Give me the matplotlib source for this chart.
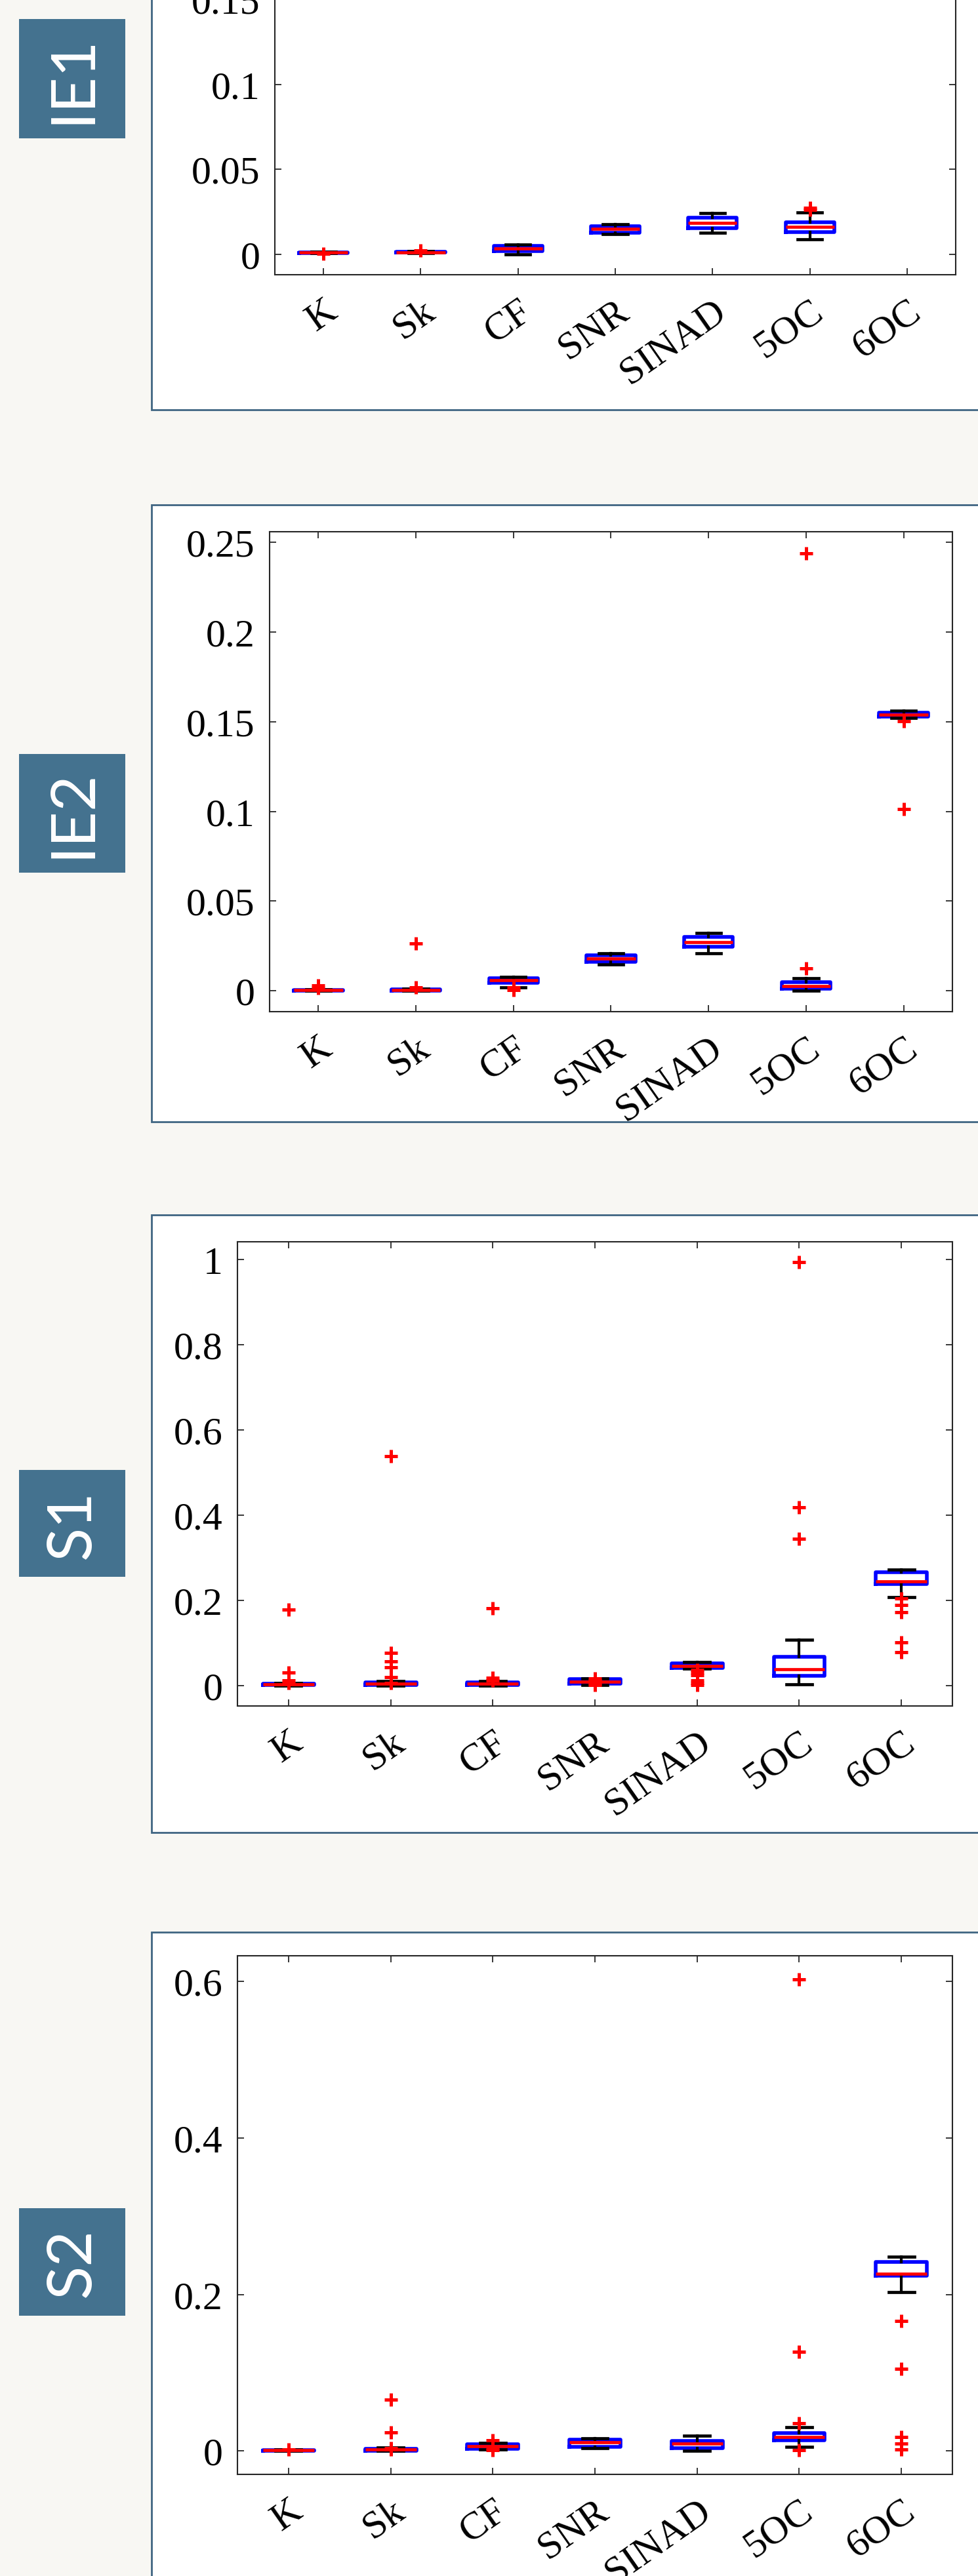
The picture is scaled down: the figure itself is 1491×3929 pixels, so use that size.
import matplotlib
matplotlib.use("Agg")
import matplotlib.pyplot as plt
from matplotlib.patches import Rectangle
from matplotlib.ticker import FixedLocator, FuncFormatter
from matplotlib.transforms import ScaledTranslation

# --- data ---
categories = ['K', 'Sk', 'CF', 'SNR', 'SINAD', '5OC', '6OC']
tags = ['IE1', 'IE2', 'S1', 'S2']

ie1_med = [0.0010, 0.0013, 0.0036, 0.0149, 0.0184, 0.0160, None]
ie1_q1 = [0.0008, 0.0010, 0.0020, 0.0128, 0.0154, 0.0132, None]
ie1_q3 = [0.0012, 0.0016, 0.0051, 0.0164, 0.0216, 0.0190, None]
ie1_lo = [0.0006, 0.0006, 0.0000, 0.0119, 0.0126, 0.0087, None]
ie1_hi = [0.0014, 0.0020, 0.0059, 0.0177, 0.0241, 0.0248, None]
ie1_out = [[0.0004], [0.0023], [], [], [], [0.0274, 0.0262], []]

ie2_med = [0.0003, 0.0003, 0.0057, 0.0179, 0.0272, 0.0027, 0.1540]
ie2_q1 = [0.0001, 0.0001, 0.0045, 0.0160, 0.0244, 0.0010, 0.1527]
ie2_q3 = [0.0005, 0.0006, 0.0070, 0.0196, 0.0299, 0.0046, 0.1552]
ie2_lo = [0.0000, 0.0000, 0.0018, 0.0146, 0.0210, 0.0000, 0.1523]
ie2_hi = [0.0008, 0.0010, 0.0077, 0.0207, 0.0323, 0.0071, 0.1560]
ie2_out = [[0.0015, 0.0030], [0.0262, 0.0018], [0.0020, 0.0005], [], [],
           [0.244, 0.0126], [0.1502, 0.1013]]

s1_med = [0.003, 0.004, 0.005, 0.009, 0.046, 0.0385, 0.245]
s1_q1 = [0.001, 0.002, 0.002, 0.005, 0.041, 0.0221, 0.239]
s1_q3 = [0.004, 0.007, 0.008, 0.0145, 0.0514, 0.0667, 0.2667]
s1_lo = [0.000, 0.000, 0.000, 0.001, 0.040, 0.003, 0.2083]
s1_hi = [0.006, 0.010, 0.011, 0.017, 0.0545, 0.1077, 0.2718]
s1_out = [[0.178, 0.031, 0.012, 0.006],
          [0.539, 0.076, 0.0565, 0.0426, 0.0195, 0.006],
          [0.181, 0.018, 0.012],
          [0.016, 0.012, 0.004, 0.001],
          [0.037, 0.030, 0.024, 0.012, 0.006, 0.002],
          [0.994, 0.419, 0.345],
          [0.204, 0.189, 0.172, 0.1015, 0.0785]]

s2_med = [0.0008, 0.0017, 0.0064, 0.0110, 0.0097, 0.0176, 0.2266]
s2_q1 = [0.0004, 0.0005, 0.0030, 0.0050, 0.0036, 0.0134, 0.2243]
s2_q3 = [0.0012, 0.0030, 0.0087, 0.0147, 0.0125, 0.0226, 0.2417]
s2_lo = [0.0002, 0.0000, 0.0020, 0.0036, 0.0000, 0.0050, 0.2034]
s2_hi = [0.0015, 0.0040, 0.0100, 0.0160, 0.0198, 0.0307, 0.2480]
s2_out = [[0.002], [0.0659, 0.024, 0.0036, 0.002], [0.0134, 0.0036, 0.001], [], [],
          [0.603, 0.127, 0.0357, 0.001], [0.166, 0.1048, 0.0176, 0.0097, 0.0017]]

ie1_yticks = [0, 0.05, 0.1, 0.15]
ie2_yticks = [0, 0.05, 0.1, 0.15, 0.2, 0.25]
s1_yticks = [0, 0.2, 0.4, 0.6, 0.8, 1.0]
s2_yticks = [0, 0.2, 0.4, 0.6]

# --- layout (pixels, origin top-left) ---
W, H = 1491, 3930
BG = '#f8f7f3'
TAG = '#44728f'
FRAME = '#3f6582'

panels = [
    # stats, yticks, ylim, axes box (x0, y0, x1, y1), frame (y0, y1), tag (y0, y1)
    ((ie1_med, ie1_q1, ie1_q3, ie1_lo, ie1_hi, ie1_out), ie1_yticks, (-0.012, 0.165),
     (419, -39, 1457, 420), (-20, 626), (30, 212)),
    ((ie2_med, ie2_q1, ie2_q3, ie2_lo, ie2_hi, ie2_out), ie2_yticks, (-0.0117, 0.256),
     (411, 812, 1452, 1544), (771, 1712), (1151, 1332)),
    ((s1_med, s1_q1, s1_q3, s1_lo, s1_hi, s1_out), s1_yticks, (-0.048, 1.042),
     (362, 1895, 1452, 2603), (1854, 2796), (2243, 2406)),
    ((s2_med, s2_q1, s2_q3, s2_lo, s2_hi, s2_out), s2_yticks, (-0.030, 0.633),
     (362, 2984, 1452, 3775), (2948, 3950), (3369, 3533)),
]


def frac(x0, y0, x1, y1):
    return [x0 / W, 1 - y1 / H, (x1 - x0) / W, (y1 - y0) / H]


fig = plt.figure(figsize=(W / 100, H / 100), dpi=100)
fig.patch.set_facecolor(BG)

for tag, (stats, yticks, ylim, axbox, frame, tagbox) in zip(tags, panels):
    # white card behind each chart
    fy0, fy1 = frame
    fig.add_artist(Rectangle((231 / W, 1 - fy1 / H), (1520 - 231) / W, (fy1 - fy0) / H,
                             transform=fig.transFigure, facecolor='white',
                             edgecolor=FRAME, linewidth=2, zorder=0))
    # coloured tag on the left
    ty0, ty1 = tagbox
    fig.add_artist(Rectangle((29 / W, 1 - ty1 / H), (191 - 29) / W, (ty1 - ty0) / H,
                             transform=fig.transFigure, facecolor=TAG,
                             edgecolor='none', zorder=1))
    fig.text(111 / W, 1 - (ty0 + ty1) / 2 / H, tag, rotation=90, color='white',
             ha='center', va='center', fontsize=68, family='Lato',
             rotation_mode='anchor')

    med, q1, q3, lo, hi, out = stats
    bxstats, pos = [], []
    for i in range(len(categories)):
        if med[i] is None:
            continue
        bxstats.append(dict(med=med[i], q1=q1[i], q3=q3[i], whislo=lo[i],
                            whishi=hi[i], fliers=out[i]))
        pos.append(i + 1)

    ax = fig.add_axes(frac(*axbox))
    ax.bxp(bxstats, positions=pos, widths=0.5, capwidths=0.25,
           boxprops=dict(color='#0000ff', linewidth=4.0),
           medianprops=dict(color='#ff0000', linewidth=3.4),
           whiskerprops=dict(color='black', linewidth=3.0),
           capprops=dict(color='black', linewidth=3.4),
           flierprops=dict(marker='+', markersize=14, markeredgewidth=3.6,
                           markeredgecolor='#ff0000', linestyle='none'))

    ax.set_xlim(0.5, 7.5)
    ax.set_ylim(*ylim)
    ax.yaxis.set_major_locator(FixedLocator(yticks))
    ax.yaxis.set_major_formatter(FuncFormatter(lambda v, p: '%g' % v))
    ax.set_xticks(range(1, len(categories) + 1))
    ax.set_xticklabels(categories, rotation=35, ha='right', va='top',
                       rotation_mode='anchor')
    for lab in ax.get_xticklabels():
        lab.set_transform(lab.get_transform() + ScaledTranslation(0.3, 0, fig.dpi_scale_trans))
    ax.tick_params(direction='in', length=7, width=1.3, top=True, right=True,
                   colors='#262626', labelcolor='black', labelsize=43)
    ax.tick_params(axis='y', pad=16)
    ax.tick_params(axis='x', pad=20)
    for lab in ax.get_xticklabels() + ax.get_yticklabels():
        lab.set_family('Liberation Serif')
    for sp in ax.spines.values():
        sp.set_color('#262626')
        sp.set_linewidth(1.5)

fig.savefig('out.png', dpi=100, facecolor=BG)
